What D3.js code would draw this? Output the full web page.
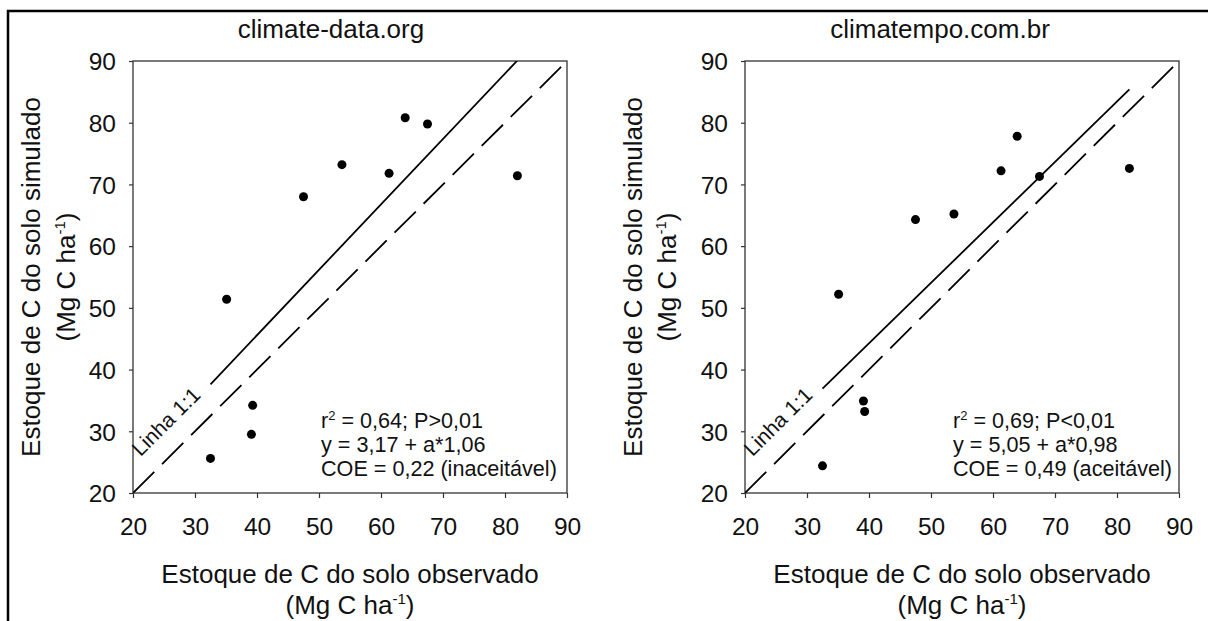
<!DOCTYPE html>
<html><head><meta charset="utf-8">
<script src="https://cdn.jsdelivr.net/npm/d3@7"></script>
<style>
body{margin:0;background:#fff}
svg{display:block}
text{font-family:Arial,"Liberation Sans",sans-serif;fill:#111}
</style>
</head><body>
<svg id="chart" width="1208" height="621"></svg>
<script>
// ---- data ----
const panelTitles = ["climate-data.org", "climatempo.com.br"];
const observed = [32.5, 35.1, 39.1, 39.3, 47.5, 53.7, 61.3, 63.9, 67.5, 82.0];
const simulatedClimateData = [25.6, 51.4, 29.5, 34.2, 68.0, 73.2, 71.8, 80.8, 79.8, 71.4];
const simulatedClimatempo = [24.4, 52.2, 34.9, 33.2, 64.3, 65.2, 72.2, 77.8, 71.3, 72.6];
const intercepts = [3.17, 5.05];
const slopes = [1.06, 0.98];
const statR2 = ["0,64; P>0,01", "0,69; P<0,01"];
const statEq = ["y = 3,17 + a*1,06", "y = 5,05 + a*0,98"];
const statCOE = ["COE = 0,22 (inaceitável)", "COE = 0,49 (aceitável)"];
const tickValues = [20, 30, 40, 50, 60, 70, 80, 90];
const axisDomain = [20, 90];

// ---- layout ----
const svg = d3.select("#chart");
const plotTop = 61, plotBottom = 493;
const panels = [
  {left: 133, right: 567, titleX: 331, yl1: 40, yl2: 75, annX: 321, sim: simulatedClimateData},
  {left: 745, right: 1179, titleX: 940, yl1: 642, yl2: 676, annX: 953, sim: simulatedClimatempo}
];

// outer border
svg.append("path").attr("d", "M8,621V11H1208").attr("fill", "none")
  .attr("stroke", "#000").attr("stroke-width", 2.5);

panels.forEach((p, i) => {
  const x = d3.scaleLinear().domain(axisDomain).range([p.left, p.right]);
  const y = d3.scaleLinear().domain(axisDomain).range([plotBottom, plotTop]);
  const g = svg.append("g");
  const cx = (p.left + p.right) / 2, cy = (plotTop + plotBottom) / 2;

  const clipId = "clip" + i;
  svg.append("clipPath").attr("id", clipId).append("rect")
    .attr("x", p.left).attr("y", plotTop).attr("width", p.right - p.left).attr("height", plotBottom - plotTop);

  // title
  g.append("text").attr("x", p.titleX).attr("y", 38).attr("text-anchor", "middle")
    .attr("font-size", 26).text(panelTitles[i]);

  // axes
  const xAxis = g.append("g").attr("transform", `translate(0,${plotBottom})`)
    .call(d3.axisBottom(x).tickValues(tickValues).tickSize(5).tickPadding(20).tickSizeOuter(0));
  const yAxis = g.append("g").attr("transform", `translate(${p.left},0)`)
    .call(d3.axisLeft(y).tickValues(tickValues).tickSize(4).tickPadding(13).tickSizeOuter(0));
  [xAxis, yAxis].forEach(a => {
    a.select(".domain").remove();
    a.selectAll("line").attr("stroke", "#333").attr("stroke-width", 1.2);
    a.selectAll("text").attr("font-size", 24.5).attr("font-family", "Arial, 'Liberation Sans', sans-serif").attr("fill", "#111");
  });
  yAxis.selectAll("text").attr("dy", "0.36em");

  // frame
  g.append("rect").attr("x", p.left).attr("y", plotTop).attr("width", p.right - p.left)
    .attr("height", plotBottom - plotTop).attr("fill", "none").attr("stroke", "#333").attr("stroke-width", 1.3);

  const lines = g.append("g").attr("clip-path", `url(#${clipId})`);
  // 1:1 line
  lines.append("line").attr("x1", x(20)).attr("y1", y(20)).attr("x2", x(90)).attr("y2", y(90))
    .attr("stroke", "#000").attr("stroke-width", 1.8).attr("stroke-dasharray", "30,11");
  // regression line
  const xmin = d3.min(observed), xmax = d3.max(observed);
  lines.append("line")
    .attr("x1", x(xmin)).attr("y1", y(intercepts[i] + slopes[i] * xmin))
    .attr("x2", x(xmax)).attr("y2", y(intercepts[i] + slopes[i] * xmax))
    .attr("stroke", "#000").attr("stroke-width", 1.8);

  // Linha 1:1 label
  const ang = Math.atan2(y(90) - y(20), x(90) - x(20)) * 180 / Math.PI;
  g.append("text").attr("transform", `translate(${x(21.2)},${y(25.8)}) rotate(${ang})`)
    .attr("font-size", 21).text("Linha 1:1");

  // points
  g.selectAll("circle.pt").data(observed.map((o, k) => [o, p.sim[k]])).join("circle")
    .attr("class", "pt").attr("cx", d => x(d[0])).attr("cy", d => y(d[1])).attr("r", 4.5).attr("fill", "#000");

  // annotation
  const ann = g.append("text").attr("font-size", 21.6);
  const l1 = ann.append("tspan").attr("x", p.annX).attr("y", 428);
  l1.append("tspan").text("r");
  l1.append("tspan").attr("font-size", 13).attr("dy", -8).text("2");
  l1.append("tspan").attr("dy", 8).text(" = " + statR2[i]);
  ann.append("tspan").attr("x", p.annX).attr("y", 452).text(statEq[i]);
  ann.append("tspan").attr("x", p.annX).attr("y", 476).text(statCOE[i]);

  // x label
  g.append("text").attr("x", cx).attr("y", 583).attr("text-anchor", "middle").attr("font-size", 26)
    .text("Estoque de C do solo observado");
  const xl2 = g.append("text").attr("x", cx).attr("y", 614).attr("text-anchor", "middle").attr("font-size", 26);
  xl2.append("tspan").text("(Mg C ha");
  xl2.append("tspan").attr("font-size", 15).attr("dy", -10).text("-1");
  xl2.append("tspan").attr("dy", 10).text(")");

  // y label
  g.append("text").attr("transform", `translate(${p.yl1},${cy}) rotate(-90)`).attr("text-anchor", "middle")
    .attr("font-size", 26).text("Estoque de C do solo simulado");
  const yl2 = g.append("text").attr("transform", `translate(${p.yl2},${cy}) rotate(-90)`).attr("text-anchor", "middle")
    .attr("font-size", 26);
  yl2.append("tspan").text("(Mg C ha");
  yl2.append("tspan").attr("font-size", 15).attr("dy", -10).text("-1");
  yl2.append("tspan").attr("dy", 10).text(")");
});
</script>
</body></html>
